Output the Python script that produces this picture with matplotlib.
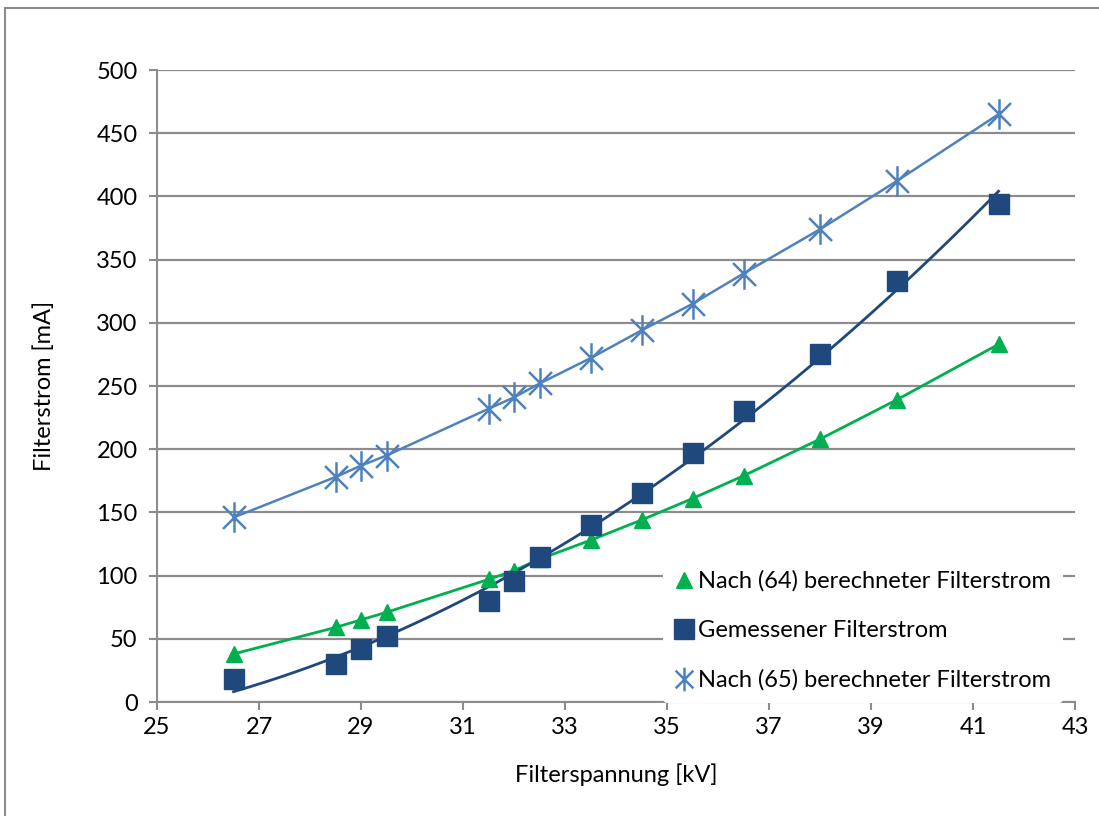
import numpy as np
import matplotlib.pyplot as plt
from matplotlib.path import Path
from matplotlib.patches import Rectangle

plt.rcParams['font.family'] = ['Lato', 'DejaVu Sans']

spannung = [26.5, 28.5, 29, 29.5, 31.5, 32, 32.5, 33.5, 34.5, 35.5, 36.5, 38, 39.5, 41.5]
strom_64 = [38, 59, 65, 71, 97, 104, 113, 128, 144, 161, 179, 208, 239, 283]
strom_gemessen = [18, 30, 42, 52, 80, 96, 115, 140, 165, 197, 230, 275, 333, 394]
strom_65 = [146, 178, 187, 195, 232, 241, 252, 272, 294, 315, 339, 374, 412, 465]

label_64 = 'Nach (64) berechneter Filterstrom'
label_gem = 'Gemessener Filterstrom'
label_65 = 'Nach (65) berechneter Filterstrom'

green = '#00B050'
dark = '#1F497D'
light = '#4F81BD'

# Excel-style asterisk: vertical bar plus X
star = Path([(0, -1), (0, 1), (-0.75, -0.75), (0.75, 0.75), (-0.75, 0.75), (0.75, -0.75)],
            [Path.MOVETO, Path.LINETO, Path.MOVETO, Path.LINETO, Path.MOVETO, Path.LINETO])

fig = plt.figure(figsize=(10.99, 8.16), dpi=100)
fig.patches.append(Rectangle((5 / 1099, -0.05), 1.1, 1.05 - 8 / 816, transform=fig.transFigure,
                             fill=False, edgecolor='#8c8c8c', linewidth=1.5))
ax = fig.add_axes([0.1429, 0.1397, 0.8353, 0.7745])

x = np.array(spannung)
# polynomial trend line for the measured current (Excel-style)
coef = np.polyfit(x, strom_gemessen, 2)
xs = np.linspace(x.min(), x.max(), 200)

ax.plot(spannung, strom_64, color=green, lw=2, zorder=3)
ax.plot(spannung, strom_64, ls='none', marker='^', ms=12, color=green, label=label_64, zorder=4)
ax.plot(xs, np.polyval(coef, xs), color=dark, lw=2, zorder=3)
ax.plot(spannung, strom_gemessen, ls='none', marker='s', ms=15, color=dark, label=label_gem, zorder=4)
ax.plot(spannung, strom_65, color=light, lw=1.8, zorder=3)
ax.plot(spannung, strom_65, ls='none', marker=star, ms=22, mew=1.8, color=light, mfc='none',
        label=label_65, zorder=4)

ax.set_xlim(25, 43)
ax.set_ylim(0, 500)
ax.set_xticks(np.arange(25, 44, 2))
ax.set_yticks(np.arange(0, 501, 50))
ax.grid(axis='y', color='#8c8c8c', lw=1.6)
ax.set_axisbelow(True)
for s in ['top', 'right']:
    ax.spines[s].set_visible(False)
for s in ['left', 'bottom']:
    ax.spines[s].set_color('#8c8c8c')
    ax.spines[s].set_linewidth(1.5)
ax.tick_params(axis='both', colors='#8c8c8c', labelcolor='black', labelsize=17, length=6, width=1.5)
ax.tick_params(axis='x', pad=5)
ax.tick_params(axis='y', pad=8)

ax.set_xlabel('Filterspannung [kV]', fontsize=17, labelpad=18)
ax.set_ylabel('Filterstrom [mA]', fontsize=17, labelpad=30)

leg = ax.legend(loc='lower right', bbox_to_anchor=(1.0, -0.02), fontsize=17, frameon=True,
                handlelength=0.8, handletextpad=0.2, labelspacing=1.2, borderpad=0.5)
leg.get_frame().set_facecolor('white')
leg.get_frame().set_edgecolor('none')
leg.get_frame().set_alpha(1)
for h, m in zip(leg.legend_handles, [11, 14, 17]):
    h.set_markersize(m)

fig.savefig('out.png', dpi=100)
